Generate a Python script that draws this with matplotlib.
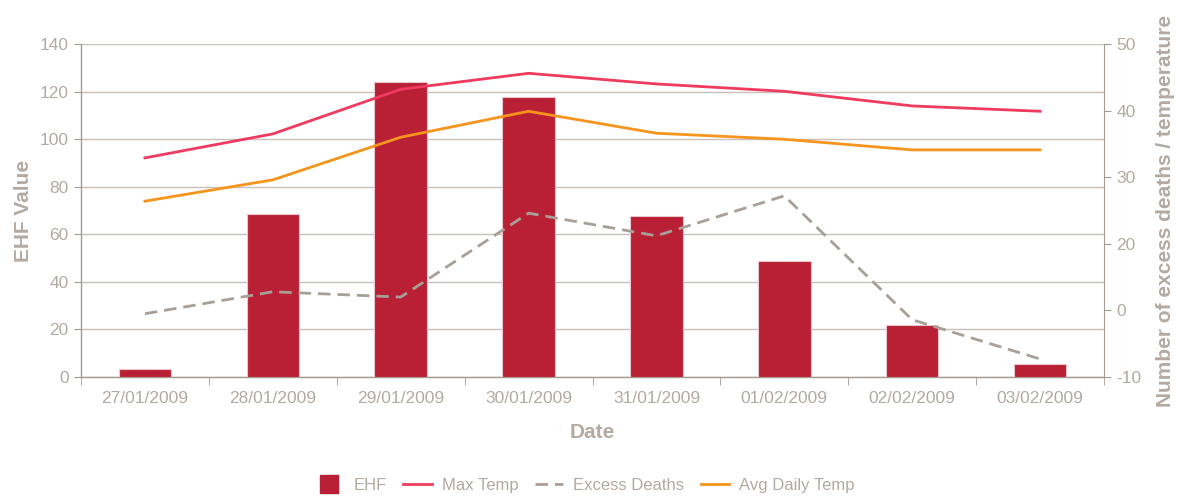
import matplotlib
matplotlib.use("Agg")
import matplotlib.pyplot as plt
import numpy as np
from matplotlib.lines import Line2D

dates = ["27/01/2009", "28/01/2009", "29/01/2009", "30/01/2009",
         "31/01/2009", "01/02/2009", "02/02/2009", "03/02/2009"]
ehf = [3.3, 68.5, 124.0, 117.7, 67.7, 48.8, 21.9, 5.5]
# secondary axis values in plotting units (axis drawn 0..50, labelled -10,0,20,30,40,50)
max_temp = [32.9, 36.5, 43.2, 45.6, 44.0, 42.9, 40.7, 39.9]
avg_temp = [26.4, 29.6, 36.0, 39.9, 36.6, 35.7, 34.1, 34.1]
excess_deaths = [9.5, 12.8, 12.0, 24.6, 21.2, 27.2, 8.6, 2.7]
right_tick_pos = [0, 10, 20, 30, 40, 50]
right_tick_labels = ["-10", "0", "20", "30", "40", "50"]
left_ticks = [0, 20, 40, 60, 80, 100, 120, 140]

plt.rcParams["font.family"] = ["Liberation Sans", "DejaVu Sans"]

txt = "#B3AAA2"
axc = "#A39A92"
gridc = "#C9C0B9"
bar_c = "#B92035"
max_c = "#EE3B5F"
avg_c = "#F7941D"
dash_c = "#A89F97"

fig = plt.figure(figsize=(11.77, 4.98), dpi=100)
ax = fig.add_axes([81/1177, 1 - 377/498, (1104-81)/1177, (377-44)/498])
x = np.arange(len(dates))
ax.bar(x, ehf, width=0.41, color=bar_c, edgecolor="#E8C6CB", linewidth=0.8, zorder=3)
ax.set_xlim(-0.5, len(dates) - 0.5)
ax.set_ylim(0, 140)
ax.set_yticks(left_ticks)
ax.yaxis.grid(True, color=gridc, linewidth=1.0, zorder=0)
ax.set_axisbelow(True)
ax.set_xticks(x)
ax.set_xticklabels(dates)
ax.set_xticks(np.arange(-0.5, len(dates), 1), minor=True)
ax.tick_params(axis="x", which="major", length=0, pad=10, labelsize=12.5, labelcolor=txt)
ax.tick_params(axis="x", which="minor", length=6, color=axc, direction="out")
ax.tick_params(axis="y", length=5, color=axc, labelsize=12.5, labelcolor=txt, pad=4)
for s in ["top", "right"]:
    ax.spines[s].set_visible(False)
for s in ["left", "bottom"]:
    ax.spines[s].set_color(axc)
    ax.spines[s].set_linewidth(1.0)
ax.set_ylabel("EHF Value", fontsize=15, fontweight="bold", color=txt, labelpad=5)
ax.set_xlabel("Date", fontsize=15, fontweight="bold", color=txt, labelpad=12)

ax2 = ax.twinx()
ax2.set_ylim(0, 50)
l1, = ax2.plot(x, max_temp, color=max_c, linewidth=2, label="Max Temp", zorder=4)
l2, = ax2.plot(x, excess_deaths, color=dash_c, linewidth=2, dashes=(4.5, 2.5),
               label="Excess Deaths", zorder=4)
l3, = ax2.plot(x, avg_temp, color=avg_c, linewidth=2, label="Avg Daily Temp", zorder=4)
ax2.set_yticks(right_tick_pos)
ax2.set_yticklabels(right_tick_labels)
ax2.tick_params(axis="y", length=5, color=axc, labelsize=12.5, labelcolor=txt, pad=4)
for s in ["top", "left", "bottom"]:
    ax2.spines[s].set_visible(False)
ax2.spines["right"].set_color(axc)
ax2.set_ylabel("Number of excess deaths / temperature", fontsize=15, fontweight="bold",
               color=txt, labelpad=10)

sq = Line2D([], [], marker="s", color=bar_c, linestyle="None", markersize=13)
leg = fig.legend([sq, l1, l2, l3], ["EHF", "Max Temp", "Excess Deaths", "Avg Daily Temp"],
                 loc="center", bbox_to_anchor=(585/1177, 1 - 485/498), ncol=4,
                 frameon=False, fontsize=12, handlelength=1.7,
                 columnspacing=1.0, handletextpad=0.6)
for t in leg.get_texts():
    t.set_color(txt)

fig.savefig("out.png", dpi=100)
